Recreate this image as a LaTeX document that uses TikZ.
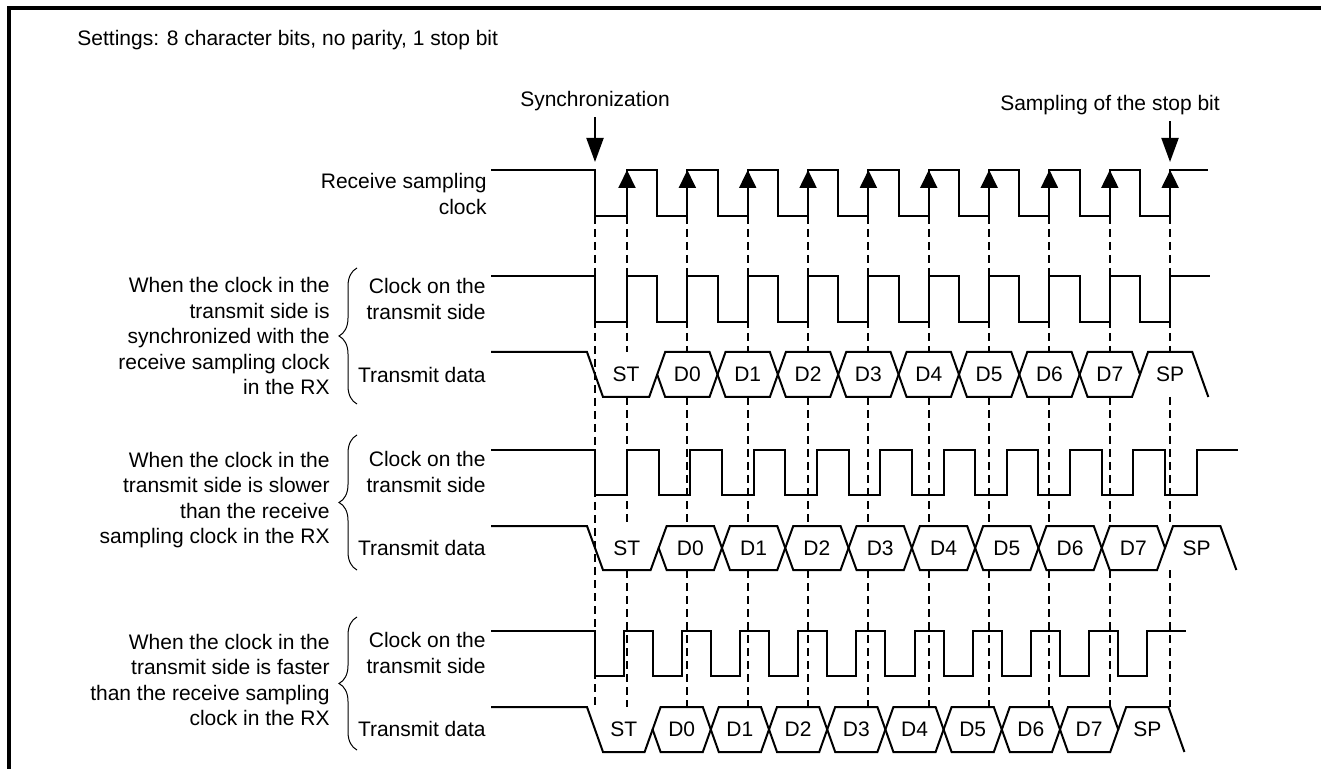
\documentclass[tikz,border=0pt]{standalone}
\usepackage{fontspec}
\setmainfont{Liberation Sans}
\usetikzlibrary{arrows.meta,decorations.pathreplacing}

\tikzset{
  wave/.style={line width=1pt, line join=miter},
  guide/.style={line width=1pt, dash pattern=on 4pt off 2.5pt},
  upmark/.style={line width=1pt, -{Triangle[length=9pt,width=8.5pt]}},
  downmark/.style={line width=1pt, -{Triangle[length=12pt,width=8.5pt]}},
  grpbrace/.style={line width=0.5pt, decorate, decoration={brace,amplitude=9pt}},
}

% clock: high y, low y, first rising edge, period, end x
\newcommand\clockwave[5]{%
  \draw[wave] (491,#1) -- (595,#1) -- (595,#2)
    \foreach \k in {0,...,8} {
      -- ({#3+\k*#4},#2) -- ({#3+\k*#4},#1)
      -- ({#3+(\k+0.5)*#4},#1) -- ({#3+(\k+0.5)*#4},#2)
    }
    -- ({#3+9*#4},#2) -- ({#3+9*#4},#1) -- (#5,#1);
}

% data: top y, bottom y, first rising edge of the clock, period, name prefix
\newcommand\datawave[5]{%
  \pgfmathsetmacro\dmid{(#1+#2)/2}
  % start bit
  \draw[wave] (491,#1) -- (587,#1) -- (603,#2)
    -- ({#3+0.5*#4-8},#2) -- ({#3+0.5*#4},\dmid);
  \node (#5st) at ({(595+#3+0.5*#4)/2},\dmid) {ST};
  % D0 .. D7
  \foreach \k in {0,...,7} {
    \pgfmathsetmacro\ca{#3+(\k+0.5)*#4}
    \pgfmathsetmacro\cb{#3+(\k+1.5)*#4}
    \draw[wave] (\ca,\dmid) -- ({\ca+8},#1) -- ({\cb-8},#1) -- (\cb,\dmid)
      -- ({\cb-8},#2) -- ({\ca+8},#2) -- cycle;
    \node (#5d\k) at ({(\ca+\cb)/2},\dmid) {D\k};
  }
  % stop bit
  \draw[wave] ({#3+8.5*#4},\dmid) -- ({#3+8.5*#4+8},#1)
    -- ({#3+9.5*#4-8},#1) -- ({#3+9.5*#4+8},#2);
  \node (#5sp) at ({#3+9*#4},\dmid) {SP};
}

\begin{document}
\begin{tikzpicture}[x=0.5pt, y=-0.5pt, inner sep=0pt,
    font=\fontsize{10.5pt}{12.75pt}\selectfont]
  \useasboundingbox (0,0) rectangle (1321,769);

  % frame
  \draw[line width=2pt] (9,769) -- (9,8) -- (1321,8);

  \node[anchor=west] (settings) at (77,40)
    {Settings: 8 character bits, no parity, 1 stop bit};

  % sampling points of the receiver
  \draw[guide] (595,216) -- (595,707);
  \foreach \k in {0,...,9} {
    \pgfmathsetmacro\sx{627+\k*60.35}
    \draw[guide] (\sx,216) -- (\sx,352) (\sx,397) -- (\sx,526) (\sx,570) -- (\sx,707);
  }

  % receive sampling clock
  \node[anchor=east, align=right] (rxclk) at (487,194) {Receive sampling\\clock};
  \clockwave{170}{216}{627}{60.35}{1208}
  \foreach \k in {0,...,9}
    \draw[upmark] ({627+\k*60.35},216) -- ({627+\k*60.35},170);

  \node (sync) at (595,101) {Synchronization};
  \coordinate (syncpt) at (595,162);
  \draw[downmark] ([yshift=-3pt]sync.south) -- (syncpt);
  \node (stopsmp) at (1110,105) {Sampling of the stop bit};
  \coordinate (stoppt) at (1170,162);
  \draw[downmark] ([yshift=-3pt]stopsmp.south -| stoppt) -- (stoppt);

  % synchronized
  \node[anchor=east, align=right] (case1) at (330,336)
    {When the clock in the\\transmit side is\\synchronized with the\\receive sampling clock\\in the RX};
  \draw[grpbrace] (357,404) -- (357,268);
  \node[anchor=east, align=right] (txclk1) at (486,299) {Clock on the\\transmit side};
  \node[anchor=east] (txdat1) at (486,375) {Transmit data};
  \clockwave{276}{322}{627}{60.35}{1210}
  \datawave{352}{397}{627}{60.35}{a}

  % slower
  \node[anchor=east, align=right] (case2) at (330,500)
    {When the clock in the\\transmit side is slower\\than the receive\\sampling clock in the RX};
  \draw[grpbrace] (357,570) -- (357,435);
  \node[anchor=east, align=right] (txclk2) at (486,472) {Clock on the\\transmit side};
  \node[anchor=east] (txdat2) at (486,548) {Transmit data};
  \clockwave{450}{495}{627}{63.3}{1238}
  \datawave{526}{570}{627}{63.3}{b}

  % faster
  \node[anchor=east, align=right] (case3) at (330,680)
    {When the clock in the\\transmit side is faster\\than the receive sampling\\clock in the RX};
  \draw[grpbrace] (357,750) -- (357,617);
  \node[anchor=east, align=right] (txclk3) at (486,653) {Clock on the\\transmit side};
  \node[anchor=east] (txdat3) at (486,729) {Transmit data};
  \clockwave{631}{676}{623.5}{58.2}{1186}
  \datawave{707}{752}{623.5}{58.2}{c}
\end{tikzpicture}
\end{document}
